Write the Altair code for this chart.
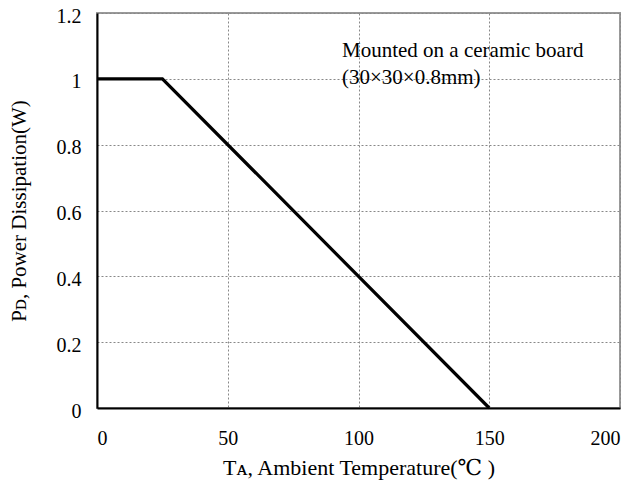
import altair as alt
import pandas as pd

ta = [0, 25, 150]
pd_w = [1.0, 1.0, 0.0]
x_ticks = [0, 50, 100, 150, 200]
y_ticks = [0, 0.2, 0.4, 0.6, 0.8, 1.0, 1.2]
note_lines = ["Mounted on a ceramic board", "(30×30×0.8mm)"]
note_x = [93.7, 93.7]
note_y = [1.066, 0.984]

df = pd.DataFrame({"ta": ta, "pd": pd_w})
notes = pd.DataFrame({"x": note_x, "y": note_y, "t": note_lines})

FONT = "Liberation Serif, DejaVu Serif, Noto Sans CJK TC, serif"

line = alt.Chart(df).mark_line(color="black", strokeWidth=3.2).encode(
    x=alt.X("ta:Q", scale=alt.Scale(domain=[0, 200], nice=False),
            axis=alt.Axis(values=x_ticks, title="Tᴀ, Ambient Temperature(℃ )",
                          labelPadding=20, titlePadding=9, titleFontSize=22)),
    y=alt.Y("pd:Q", scale=alt.Scale(domain=[0, 1.2], nice=False),
            axis=alt.Axis(values=y_ticks, format=".1~f", title="Pᴅ, Power Dissipation(W)",
                          labelPadding=16, labelBaseline="alphabetic", labelOffset=9,
                          titlePadding=27)),
)

text = alt.Chart(notes).mark_text(align="left", baseline="alphabetic", font=FONT,
                                   fontSize=21, color="black").encode(
    x="x:Q", y="y:Q", text="t:N")

chart = alt.layer(line, text).properties(
    width=523, height=395,
    autosize=alt.AutoSizeParams(type="none"),
    padding={"left": 89, "top": 5, "right": 10, "bottom": 80},
).configure_view(stroke="#999999", strokeWidth=2).configure_axis(
    domainColor="black", domainWidth=2, ticks=False,
    gridColor="#888888", gridDash=[2, 2], gridWidth=1,
    labelFont=FONT, labelFontSize=20, labelColor="black",
    titleFont=FONT, titleFontSize=21, titleFontWeight="normal", titleColor="black",
)

chart.save("out.html", embed_options={"renderer": "svg", "actions": False})
